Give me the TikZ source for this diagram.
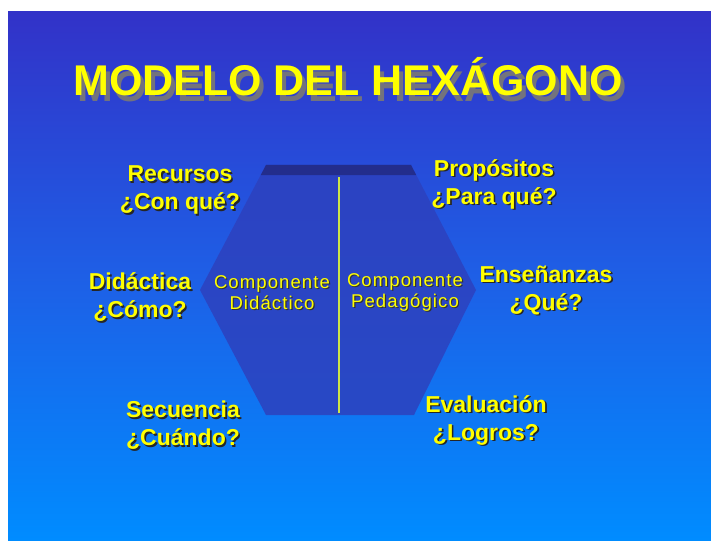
\documentclass[tikz,border=0pt]{standalone}
\usepackage{fontspec}
\setmainfont{Liberation Sans}
\newfontfamily\compfont{Liberation Sans}[LetterSpace=6]
\definecolor{bgtop}{RGB}{50,50,200}
\definecolor{bgbot}{RGB}{0,140,255}
\definecolor{hexfill}{RGB}{45,65,190}
\definecolor{hextop}{RGB}{35,45,140}
\definecolor{yel}{RGB}{255,255,0}
\definecolor{linecol}{RGB}{205,230,70}
\definecolor{titleshadow}{RGB}{115,115,125}
\newcommand\shd[1]{\leavevmode\rlap{\kern1.6pt\raisebox{-1.6pt}{\textcolor{black!85}{#1}}}#1}
\newcommand\shdc[1]{\leavevmode\rlap{\kern1.2pt\raisebox{-1.2pt}{\textcolor{black!80}{#1}}}#1}
\newcommand\shdt[1]{\leavevmode\rlap{\kern4pt\raisebox{-6pt}{\textcolor{titleshadow}{#1}}}#1}
\tikzset{
  lbl/.style={font=\fontsize{23}{28}\selectfont\bfseries, text=yel, align=center, inner sep=0pt},
  comp/.style={font=\compfont\fontsize{18.5}{21}\selectfont, text=yel, align=center, inner sep=0pt},
  ttl/.style={font=\fontsize{43}{50}\selectfont\bfseries, text=yel, inner sep=0pt}
}
\begin{document}
\begin{tikzpicture}[x=1pt,y=-1pt]
\useasboundingbox (0,0) rectangle (711,540);
\fill[white] (0,0) rectangle (711,540);
\shade[top color=bgtop, bottom color=bgbot, middle color={rgb,255:red,30;green,95;blue,230}] (8,12) rectangle (711,540);
% hexagon
\fill[hexfill, opacity=0.85] (266,165) -- (411,165) -- (476,290) -- (414,415) -- (266,415) -- (200,290) -- cycle;
\fill[hextop] (266,165) -- (411,165) -- (416.2,175) -- (260.8,175) -- cycle;
\coordinate (ltop) at (339,177);
\coordinate (lbot) at (339,413);
\draw[linecol, line width=2.5pt] (ltop) -- (lbot);
% title
\node[ttl] (title) at (348,80) {\shdt{MODELO DEL HEXÁGONO}};
% components
\node[comp] (cd) at (272,293) {\shdc{Componente}\\\shdc{Didáctico}};
\node[comp] (cp) at (405,293) {\shdc{Componente}\\\shdc{Pedagógico}};
% labels
\node[lbl] (rec) at (180,191) {\shd{Recursos}\\\shd{¿Con qué?}};
\node[lbl] (did) at (140,298) {\shd{Didáctica}\\\shd{¿Cómo?}};
\node[lbl] (sec) at (183,426) {\shd{Secuencia}\\\shd{¿Cuándo?}};
\node[lbl] (pro) at (494,185) {\shd{Propósitos}\\\shd{¿Para qué?}};
\node[lbl] (ens) at (546,291) {\shd{Enseñanzas}\\\shd{¿Qué?}};
\node[lbl] (eva) at (486,421) {\shd{Evaluación}\\\shd{¿Logros?}};
\end{tikzpicture}
\end{document}
